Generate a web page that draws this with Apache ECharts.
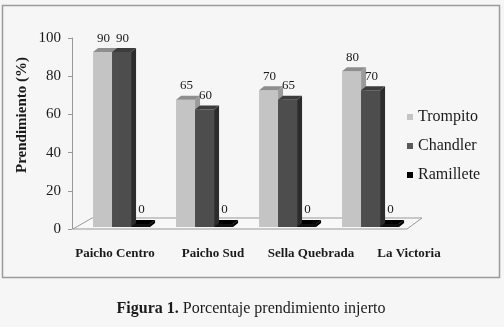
<!DOCTYPE html>
<html>
<head>
<meta charset="utf-8">
<script src="https://cdn.jsdelivr.net/npm/echarts@6/dist/echarts.min.js"></script>
<style>
html,body{margin:0;padding:0;background:#f6f6f6;}
#c{width:504px;height:327px;}
</style>
</head>
<body>
<div id="c"></div>
<script>
const categories = ['Paicho Centro', 'Paicho Sud', 'Sella Quebrada', 'La Victoria'];
const seriesNames = ['Trompito', 'Chandler', 'Ramillete'];
const trompito = [90, 65, 70, 80];
const chandler = [90, 60, 65, 70];
const ramillete = [0, 0, 0, 0];
const yMin = 0, yMax = 100, yInterval = 20;
const FONT = '"Liberation Serif", "Times New Roman", serif';

function makeRender(k, front, top, side) {
  return function (params, api) {
    const i = api.value(0), v = api.value(1);
    const p0 = api.coord([i, 0]);
    const p1 = api.coord([i, v]);
    const band = api.size([1, 0])[0];
    const w = band * 0.229;
    const x0 = p0[0] - band * 0.361 + k * w;
    const x1 = x0 + w;
    const yb = p0[1] - 2;
    const yt = Math.min(p1[1] - 5, yb - 2);
    const dx = 5, dy = 4;
    return {
      type: 'group',
      children: [
        { type: 'polygon', shape: { points: [[x1, yt], [x1 + dx, yt - dy], [x1 + dx, yb - dy], [x1, yb]] }, style: { fill: side } },
        { type: 'rect', shape: { x: x0, y: yt, width: w, height: yb - yt }, style: { fill: front } },
        { type: 'polygon', shape: { points: [[x0, yt], [x1, yt], [x1 + dx, yt - dy], [x0 + dx, yt - dy]] }, style: { fill: top } },
        { type: 'text', style: { text: String(v), x: (x0 + x1) / 2 + 1, y: yt - dy - 10, align: 'center', verticalAlign: 'middle', font: '13px ' + FONT, fill: '#1a1a1a' } }
      ]
    };
  };
}

const chart = echarts.init(document.getElementById('c'));
chart.setOption({
  backgroundColor: '#f6f6f6',
  animation: false,
  grid: [
    { left: 81.5, right: 90.5, top: 38, bottom: 98 },
    { left: 66, right: 46, top: 38, bottom: 98 }
  ],
  xAxis: [
    { type: 'category', gridIndex: 0, data: categories, show: false },
    { type: 'category', gridIndex: 1, data: categories,
      axisLine: { show: false }, axisTick: { show: false },
      axisLabel: { interval: 0, margin: 18, fontFamily: FONT, fontSize: 13, fontWeight: 'bold', color: '#1a1a1a' } }
  ],
  yAxis: [
    { type: 'value', gridIndex: 0, min: yMin, max: yMax, interval: yInterval, offset: 9.5,
      axisLine: { show: true, lineStyle: { color: '#999' } },
      axisTick: { show: true, length: 4, lineStyle: { color: '#999' } },
      splitLine: { show: false },
      axisLabel: { margin: 11, fontFamily: FONT, fontSize: 15, color: '#1a1a1a' } },
    { type: 'value', gridIndex: 1, min: yMin, max: yMax, show: false }
  ],
  legend: {
    orient: 'vertical', left: 407, top: 109, padding: 0, itemWidth: 6, itemHeight: 6, itemGap: 13,
    icon: 'rect', data: seriesNames,
    textStyle: { fontFamily: FONT, fontSize: 16, color: '#1a1a1a' }
  },
  graphic: [
    { type: 'rect', z: 0, shape: { x: 2.5, y: 5.5, width: 497, height: 272 }, style: { fill: 'none', stroke: '#9a9a9a', lineWidth: 1.5 } },
    { type: 'polygon', z: 0, shape: { points: [[73, 229], [407, 229], [422, 218], [92, 218]] }, style: { fill: '#f8f8f8', stroke: '#999', lineWidth: 1 } },
    { type: 'text', x: 22, y: 115, rotation: Math.PI / 2, style: { text: 'Prendimiento (%)', align: 'center', verticalAlign: 'middle', font: 'bold 15px ' + FONT, fill: '#1a1a1a' } },
    { type: 'text', x: 251, y: 309, style: { text: '{b|Figura 1.} Porcentaje prendimiento injerto', align: 'center', verticalAlign: 'middle', fontFamily: FONT, fontSize: 16, fill: '#1a1a1a', rich: { b: { fontFamily: FONT, fontSize: 16, fontWeight: 'bold', fill: '#1a1a1a' } } } }
  ],
  series: [
    { name: seriesNames[0], type: 'custom', z: 3, clip: false, itemStyle: { color: '#c4c4c4' },
      encode: { x: 0, y: 1 }, data: trompito.map((v, i) => [i, v]),
      renderItem: makeRender(0, '#c4c4c4', '#8e8e8e', '#9a9a9a') },
    { name: seriesNames[1], type: 'custom', z: 4, clip: false, itemStyle: { color: '#5a5a5a' },
      encode: { x: 0, y: 1 }, data: chandler.map((v, i) => [i, v]),
      renderItem: makeRender(1, '#4d4d4d', '#3c3c3c', '#2c2c2c') },
    { name: seriesNames[2], type: 'custom', z: 2, clip: false, itemStyle: { color: '#000000' },
      encode: { x: 0, y: 1 }, data: ramillete.map((v, i) => [i, v]),
      renderItem: makeRender(2, '#111111', '#000000', '#000000') }
  ]
});
</script>
</body>
</html>
